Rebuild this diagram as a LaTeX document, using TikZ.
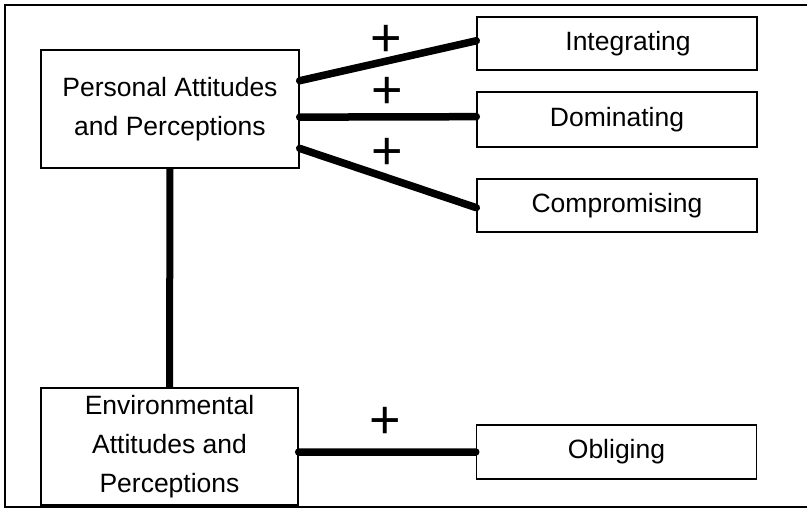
\documentclass[tikz,border=0pt]{standalone}
\usepackage{fontspec}
\setmainfont{Liberation Sans}
\usetikzlibrary{calc}
\tikzset{
  box/.style={draw, line width=1.4pt, inner sep=0pt, align=center,
    font=\fontsize{26.5}{39}\selectfont},
  link/.style={line width=7.5pt, line cap=round},
  plus/.style={inner sep=0pt, font=\fontsize{54}{54}\selectfont},
  frame/.style={line width=2pt}
}
\begin{document}
\begin{tikzpicture}[x=1pt, y=-1pt]
  \useasboundingbox (0,0) rectangle (807,509);

  % open frame around the model
  \coordinate (ftr) at (807,5);
  \coordinate (ftl) at (5,5);
  \coordinate (fbl) at (5,507);
  \coordinate (fbr) at (807,507);
  \draw[frame] (ftr) -- (ftl) -- (fbl) -- (fbr);

  % antecedents
  \node[box, minimum width=258pt, minimum height=118pt] (pa) at (170,109)
    {Personal Attitudes\\and Perceptions};
  \node[box, minimum width=257pt, minimum height=117pt] (ea) at (169.5,446.5)
    {Environmental\\Attitudes and\\Perceptions};

  % conflict-handling styles
  \node[box, minimum width=280pt, minimum height=53pt] (int) at (617,43.5) {\hspace*{22pt}Integrating};
  \node[box, minimum width=280pt, minimum height=55pt] (dom) at (617,119.5) {Dominating};
  \node[box, minimum width=280pt, minimum height=53pt] (com) at (617,205.5) {Compromising};
  \node[box, minimum width=280pt, minimum height=54pt] (obl) at (616.5,452) {Obliging};

  % links
  \draw[link] ($(pa.north east)!0.263!(pa.south east)$) -- ($(int.north west)!0.45!(int.south west)$);
  \draw[link] ($(pa.north east)!0.568!(pa.south east)$) -- ($(dom.north west)!0.45!(dom.south west)$);
  \draw[link] ($(pa.north east)!0.83!(pa.south east)$) -- ($(com.north west)!0.54!(com.south west)$);
  \draw[line width=7pt] (pa.south) -- (ea.north);
  \draw[link] ($(ea.north east)!0.547!(ea.south east)$) -- (obl.west);

  % signs
  \node[plus] (s1) at (386,41) {+};
  \node[plus] (s2) at (387,93) {+};
  \node[plus] (s3) at (387,154) {+};
  \node[plus] (s4) at (385,423) {+};
\end{tikzpicture}
\end{document}
